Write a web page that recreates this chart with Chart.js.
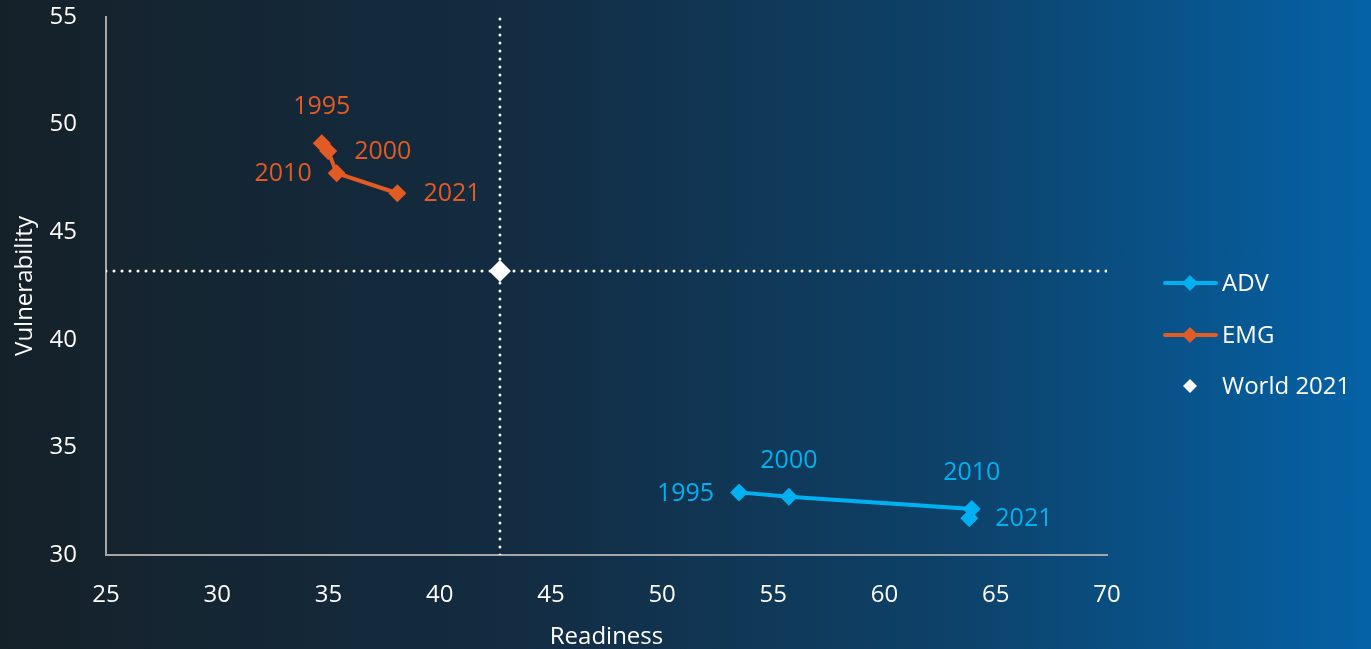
<!DOCTYPE html>
<html>
<head>
<meta charset="utf-8">
<script src="https://cdn.jsdelivr.net/npm/chart.js@4.4.1/dist/chart.umd.min.js"></script>
<style>
    html, body { margin: 0; padding: 0; }
    body {
        width: 1371px;
        height: 649px;
        overflow: hidden;
        background: linear-gradient(to right, #152129 0%, #132c42 38%, #0d426a 70%, #0562a6 100%);
    }
    #chart { display: block; }
</style>
</head>
<body>
<canvas id="chart" width="1371" height="649"></canvas>
<script>
const years = ['1995', '2000', '2010', '2021'];
const advReadiness = [53.46, 55.70, 63.92, 63.81];
const advVulnerability = [32.91, 32.71, 32.14, 31.71];
const emgReadiness = [34.70, 34.99, 35.37, 38.10];
const emgVulnerability = [49.13, 48.77, 47.74, 46.81];
const worldReadiness = 42.71;
const worldVulnerability = 43.20;
const readinessRange = [25, 70];
const vulnerabilityRange = [30, 55];

const advColor = '#00b0f0';
const emgColor = '#e35b24';
const fontFamily = '"Open Sans", "Noto Sans", sans-serif';

// where each year label sits relative to its marker
const advLabelSide = ['left', 'above', 'above', 'right'];
const emgLabelSide = ['above', 'right', 'left', 'right'];

const toPoints = (xs, ys) => xs.map((x, i) => ({ x, y: ys[i] }));

const yearLabels = {
    id: 'yearLabels',
    afterDatasetsDraw(chart) {
        const { ctx } = chart;
        chart.data.datasets.forEach((dataset, i) => {
            if (!dataset.yearSides) return;
            const meta = chart.getDatasetMeta(i);
            ctx.save();
            ctx.font = `25px ${fontFamily}`;
            ctx.fillStyle = dataset.borderColor;
            ctx.textBaseline = 'middle';
            meta.data.forEach((el, j) => {
                const side = dataset.yearSides[j];
                let x = el.x;
                let y = el.y;
                if (side === 'above') {
                    ctx.textAlign = 'center';
                    y -= 37;
                } else if (side === 'left') {
                    ctx.textAlign = 'right';
                    x -= 25;
                } else {
                    ctx.textAlign = 'left';
                    x += 26;
                }
                ctx.fillText(years[j], x, y + 1);
            });
            ctx.restore();
        });
    },
};

const sideLegend = {
    id: 'sideLegend',
    afterDraw(chart) {
        const { ctx } = chart;
        const items = [
            { text: 'ADV', color: advColor, line: true, y: 283 },
            { text: 'EMG', color: emgColor, line: true, y: 335 },
            { text: 'World 2021', color: '#ffffff', line: false, y: 386 },
        ];
        ctx.save();
        ctx.font = `24px ${fontFamily}`;
        ctx.textBaseline = 'middle';
        ctx.textAlign = 'left';
        items.forEach((item) => {
            if (item.line) {
                ctx.strokeStyle = item.color;
                ctx.lineWidth = 4;
                ctx.lineCap = 'round';
                ctx.beginPath();
                ctx.moveTo(1165, item.y);
                ctx.lineTo(1216, item.y);
                ctx.stroke();
            }
            const r = item.line ? 8 : 7;
            ctx.fillStyle = item.color;
            ctx.beginPath();
            ctx.moveTo(1190, item.y - r);
            ctx.lineTo(1190 + r, item.y);
            ctx.lineTo(1190, item.y + r);
            ctx.lineTo(1190 - r, item.y);
            ctx.closePath();
            ctx.fill();
            ctx.fillStyle = '#ffffff';
            ctx.fillText(item.text, 1222, item.y + 1);
        });
        ctx.restore();
    },
};

const dotted = {
    type: 'line',
    borderColor: '#ffffff',
    borderWidth: 3,
    borderDash: [0, 8],
    borderCapStyle: 'round',
    pointRadius: 0,
    fill: false,
    order: 10,
};

new Chart(document.getElementById('chart'), {
    type: 'scatter',
    data: {
        datasets: [
            {
                ...dotted,
                data: [
                    { x: worldReadiness, y: vulnerabilityRange[0] },
                    { x: worldReadiness, y: vulnerabilityRange[1] },
                ],
            },
            {
                ...dotted,
                data: [
                    { x: readinessRange[0], y: worldVulnerability },
                    { x: readinessRange[1], y: worldVulnerability },
                ],
            },
            {
                label: 'ADV',
                data: toPoints(advReadiness, advVulnerability),
                showLine: true,
                borderColor: advColor,
                backgroundColor: advColor,
                borderWidth: 4,
                pointStyle: 'rectRot',
                pointRadius: 9,
                pointBorderWidth: 0,
                yearSides: advLabelSide,
                order: 2,
            },
            {
                label: 'EMG',
                data: toPoints(emgReadiness, emgVulnerability),
                showLine: true,
                borderColor: emgColor,
                backgroundColor: emgColor,
                borderWidth: 4,
                pointStyle: 'rectRot',
                pointRadius: 9,
                pointBorderWidth: 0,
                yearSides: emgLabelSide,
                order: 2,
            },
            {
                label: 'World 2021',
                data: [{ x: worldReadiness, y: worldVulnerability }],
                borderColor: '#ffffff',
                backgroundColor: '#ffffff',
                pointStyle: 'rectRot',
                pointRadius: 11,
                pointBorderWidth: 0,
                order: 1,
            },
        ],
    },
    options: {
        responsive: false,
        animation: false,
        layout: { padding: { top: 17, right: 264, left: 0, bottom: 0 } },
        plugins: { legend: { display: false }, tooltip: { enabled: false } },
        scales: {
            x: {
                type: 'linear',
                min: readinessRange[0],
                max: readinessRange[1],
                afterFit: (scale) => {
                    scale.height = 94;
                    scale.paddingLeft = 0;
                    scale.paddingRight = 0;
                },
                grid: { display: false, drawTicks: false },
                border: { color: '#a6a6a6', width: 2 },
                ticks: {
                    stepSize: 5,
                    padding: 26,
                    color: '#ffffff',
                    font: { family: fontFamily, size: 24 },
                },
                title: {
                    display: true,
                    text: 'Readiness',
                    color: '#ffffff',
                    font: { family: fontFamily, size: 24 },
                    padding: { top: 0, bottom: -3 },
                },
            },
            y: {
                type: 'linear',
                min: vulnerabilityRange[0],
                max: vulnerabilityRange[1],
                afterFit: (scale) => {
                    scale.width = 106;
                    scale.paddingTop = 0;
                    scale.paddingBottom = 0;
                },
                grid: { display: false, drawTicks: false },
                border: { color: '#a6a6a6', width: 2 },
                ticks: {
                    stepSize: 5,
                    padding: 29,
                    color: '#ffffff',
                    font: { family: fontFamily, size: 24 },
                },
                title: {
                    display: true,
                    text: 'Vulnerability',
                    color: '#ffffff',
                    font: { family: fontFamily, size: 24 },
                    padding: { top: 11, bottom: 0 },
                },
            },
        },
    },
    plugins: [yearLabels, sideLegend],
});
</script>
</body>
</html>
